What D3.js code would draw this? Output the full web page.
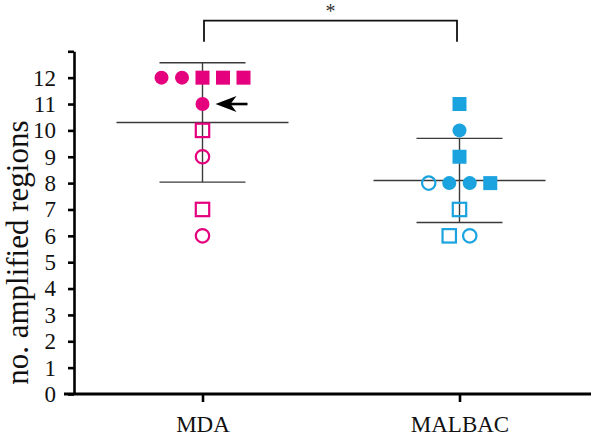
<!DOCTYPE html>
<html><head><meta charset="utf-8">
<script src="https://cdn.jsdelivr.net/npm/d3@7"></script>
<style>body{margin:0;background:#fff}svg{display:block}</style>
</head><body>
<script>
const categories = ["MDA", "MALBAC"];
const mdaValues  = [12, 12, 12, 12, 12, 11, 10, 9, 7, 6];
const mdaShapes  = ["circle","circle","square","square","square","circle","square","circle","square","circle"];
const mdaFilled  = [true, true, true, true, true, true, false, false, false, false];
const malbacValues = [11, 10, 9, 8, 8, 8, 8, 7, 6, 6];
const malbacShapes = ["square","circle","square","circle","circle","circle","square","square","square","circle"];
const malbacFilled = [true, true, true, false, true, true, true, false, false, false];
const yTickValues = [0,1,2,3,4,5,6,7,8,9,10,11,12,13];
const colors = {MDA: "#e5007d", MALBAC: "#1aa3df"};
const arrowValue = 11;
const sigLabel = "*";
const yTitle = "no. amplified regions";

const W = 591, H = 444;
const svg = d3.select("body").append("svg").attr("width", W).attr("height", H);
const serif = "'Liberation Serif','Times New Roman',serif";

const y = d3.scaleLinear().domain([0, 13]).range([394, 51.3]);
const x = d3.scalePoint().domain(categories).range([74, 588]).padding(0.5);

// y axis
const yAxis = svg.append("g").attr("transform", "translate(74,0)")
  .call(d3.axisLeft(y).tickValues(yTickValues).tickSize(6).tickSizeOuter(0).tickPadding(12)
    .tickFormat(d => d === 13 ? "" : d));
yAxis.select(".domain").attr("stroke", "#000").attr("stroke-width", 2.6);
yAxis.selectAll(".tick line").attr("stroke", "#000").attr("stroke-width", 2.6);
yAxis.selectAll(".tick text").attr("font-family", serif).attr("font-size", 23).attr("fill", "#111");

// x axis
const xAxis = svg.append("g").attr("transform", "translate(0,394)")
  .call(d3.axisBottom(x).tickSize(8).tickPadding(14));
xAxis.select(".domain").remove();
xAxis.selectAll(".tick line").attr("stroke", "#000").attr("stroke-width", 2.6);
xAxis.selectAll(".tick text").attr("font-family", serif).attr("font-size", 23).attr("fill", "#111");
svg.append("line").attr("x1", 64).attr("x2", W).attr("y1", 394).attr("y2", 394)
  .attr("stroke", "#000").attr("stroke-width", 3);

// y title
svg.append("text").attr("transform", `translate(28,${(y(0)+y(13))/2 + 30}) rotate(-90)`)
  .attr("text-anchor", "middle").attr("font-family", serif).attr("font-size", 31).attr("fill", "#111")
  .text(yTitle);

const groups = [
  {name: "MDA", values: mdaValues, shapes: mdaShapes, filled: mdaFilled},
  {name: "MALBAC", values: malbacValues, shapes: malbacShapes, filled: malbacFilled}
];
const spacing = 20.5;

groups.forEach(g => {
  const cx = x(g.name);
  const mean = d3.mean(g.values), sd = d3.deviation(g.values);
  const ln = (x1, x2, yy) => svg.append("line").attr("x1", x1).attr("x2", x2).attr("y1", yy).attr("y2", yy)
      .attr("stroke", "#3a3a3a").attr("stroke-width", 1.4);
  ln(cx - 86, cx + 86, y(mean));
  ln(cx - 43, cx + 43, y(mean + sd));
  ln(cx - 43, cx + 43, y(mean - sd));
  svg.append("line").attr("x1", cx).attr("x2", cx).attr("y1", y(mean + sd)).attr("y2", y(mean - sd))
    .attr("stroke", "#3a3a3a").attr("stroke-width", 1.4);

  const counts = d3.rollup(g.values, v => v.length, d => d);
  const seen = new Map();
  g.values.forEach((v, i) => {
    const n = counts.get(v);
    const k = seen.get(v) || 0; seen.set(v, k + 1);
    const px = cx + (k - (n - 1) / 2) * spacing, py = y(v);
    const col = colors[g.name];
    const filled = g.filled[i];
    if (g.shapes[i] === "circle") {
      svg.append("circle").attr("cx", px).attr("cy", py).attr("r", filled ? 7 : 6.7)
        .attr("fill", filled ? col : "none").attr("stroke", filled ? "none" : col).attr("stroke-width", 2.2);
    } else {
      const s = filled ? 14 : 13.4;
      svg.append("rect").attr("x", px - s/2).attr("y", py - s/2).attr("width", s).attr("height", s)
        .attr("fill", filled ? col : "none").attr("stroke", filled ? "none" : col).attr("stroke-width", 2.2);
    }
  });
});

// arrow
const ax = x("MDA"), ay = y(arrowValue);
svg.append("line").attr("x1", ax + 26).attr("x2", ax + 45).attr("y1", ay).attr("y2", ay)
  .attr("stroke", "#000").attr("stroke-width", 2.6);
svg.append("path").attr("d", `M${ax+13},${ay} L${ax+34},${ay-8} L${ax+28},${ay} L${ax+34},${ay+8} Z`)
  .attr("fill", "#000");

// significance bracket
const bx1 = x("MDA") + 1.5, bx2 = x("MALBAC") - 2.5, by = y(13) - 30.6, bLeg = y(13) - 9.6;
svg.append("path").attr("d", `M${bx1},${bLeg} L${bx1},${by} L${bx2},${by} L${bx2},${bLeg}`)
  .attr("fill", "none").attr("stroke", "#111").attr("stroke-width", 1.8);
svg.append("text").attr("x", (bx1 + bx2) / 2).attr("y", by - 2.5).attr("text-anchor", "middle")
  .attr("font-family", serif).attr("font-size", 20).attr("fill", "#333").text(sigLabel);
</script>
</body></html>
